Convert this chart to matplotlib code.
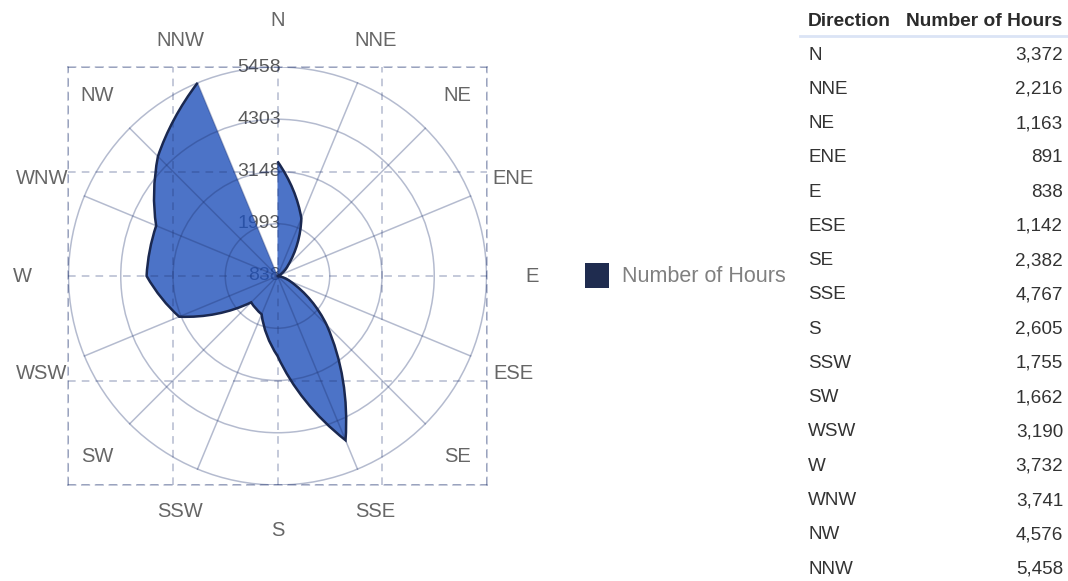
import numpy as np
import matplotlib
matplotlib.use('Agg')
import matplotlib.pyplot as plt
from matplotlib.path import Path
from matplotlib.patches import PathPatch, Circle, Rectangle

plt.rcParams['font.family'] = ['Liberation Sans', 'DejaVu Sans']

# ---------------------------------------------------------------------------
# Data
# ---------------------------------------------------------------------------
directions = ['N', 'NNE', 'NE', 'ENE', 'E', 'ESE', 'SE', 'SSE',
              'S', 'SSW', 'SW', 'WSW', 'W', 'WNW', 'NW', 'NNW']
hours = [3372, 2216, 1163, 891, 838, 1142, 2382, 4767,
         2605, 1755, 1662, 3190, 3732, 3741, 4576, 5458]
series_name = 'Number of Hours'
table_headers = ['Direction', 'Number of Hours']

# radial scale: centre = min, outer ring = max
r_min, r_max = min(hours), max(hours)
r_ticks = np.linspace(r_min, r_max, 5)
span = r_max - r_min
n = len(directions)
step = 2 * np.pi / n

# ---------------------------------------------------------------------------
# Helpers
# ---------------------------------------------------------------------------
def polar_xy(theta, value):
    d = value - r_min
    return d * np.sin(theta), d * np.cos(theta)


def series_path(values, close_to_centre):
    """segments as cubic beziers whose handles sit on the polar (spiral) path"""
    verts, codes = [], []
    first = polar_xy(0.0, values[0])
    if close_to_centre:
        verts += [(0, 0), first]
        codes += [Path.MOVETO, Path.LINETO]
    else:
        verts += [first]
        codes += [Path.MOVETO]
    for i in range(1, len(values)):
        t0, v0, v1 = (i - 1) * step, values[i - 1], values[i]
        for f in (1 / 3, 2 / 3):
            verts.append(polar_xy(t0 + f * step, v0 + f * (v1 - v0)))
        verts.append(polar_xy(i * step, v1))
        codes += [Path.CURVE4] * 3
    if close_to_centre:
        verts += [(0, 0), (0, 0)]
        codes += [Path.LINETO, Path.CLOSEPOLY]
    return Path(verts, codes)

# ---------------------------------------------------------------------------
# Figure
# ---------------------------------------------------------------------------
W, H = 1068, 581
fig = plt.figure(figsize=(W / 100, H / 100), dpi=100)
ax = fig.add_axes([68 / W, 1 - 485 / H, 419 / W, 418 / H])
ax.set_xlim(-span, span)
ax.set_ylim(-span, span)
ax.set_aspect('equal', adjustable='box')

grid_c = '#1e326e'
grid_a = 0.33

# dashed square grid
ax.set_xticks(np.linspace(-span, span, 5))
ax.set_yticks(np.linspace(-span, span, 5))
ax.tick_params(length=0, labelbottom=False, labelleft=False)
ax.grid(True, color=grid_c, alpha=grid_a, linestyle=(0, (5, 4)), linewidth=1.1)
ax.set_axisbelow(False)
for sp in ax.spines.values():
    sp.set_linestyle((0, (5, 4)))
    sp.set_color(grid_c)
    sp.set_alpha(grid_a)
    sp.set_linewidth(1.1)

# rings and spokes
for t in r_ticks[1:]:
    ax.add_patch(Circle((0, 0), t - r_min, fill=False, edgecolor=grid_c,
                        alpha=grid_a, linewidth=1.1, zorder=3))
for i in range(n):
    if i % 4 == 0:
        continue
    a = i * step
    ax.plot([0, span * np.sin(a)], [0, span * np.cos(a)], color=grid_c,
            alpha=grid_a, linewidth=1.1, zorder=3)

# radial labels (under the fill)
for t in r_ticks:
    ax.text(80, t - r_min, f"{t:.0f}", ha='right', va='center',
            fontsize=14, color='#5a5a5a', zorder=0.5)

# series
ax.add_patch(PathPatch(series_path(hours, True), facecolor='#1f50ba',
                       edgecolor='none', alpha=0.8, zorder=1))
ax.add_patch(PathPatch(series_path(hours, False), facecolor='none',
                       edgecolor='#1a2850', linewidth=1.8, zorder=4,
                       joinstyle='miter'))

# direction labels
lab_r = span * 255 / 209
for i, name in enumerate(directions):
    a = i * step
    ax.text(lab_r * np.sin(a), lab_r * np.cos(a), name, ha='center',
            va='center', fontsize=14.5, color='#666666')

# legend
fig.patches.append(Rectangle((585 / W, 1 - 288 / H), 24 / W, 25 / H,
                             transform=fig.transFigure, facecolor='#1f2c4f',
                             edgecolor='none'))
fig.text(622 / W, 1 - 277 / H, series_name, ha='left', va='center',
         fontsize=15.5, color='#808080')

# table
fig.text(808 / W, 1 - 22 / H, table_headers[0], ha='left', va='center',
         fontsize=13.8, fontweight='bold', color='#2b2b2b')
fig.text(1062 / W, 1 - 22 / H, table_headers[1], ha='right', va='center',
         fontsize=13.8, fontweight='bold', color='#2b2b2b')
fig.add_artist(plt.Line2D([800 / W, 1068 / W], [1 - 36 / H, 1 - 36 / H],
                          transform=fig.transFigure, color='#dbe4f5',
                          linewidth=2))
row0, row_h = 55, 34.27
for i, (d, v) in enumerate(zip(directions, hours)):
    y = 1 - (row0 + i * row_h) / H
    fig.text(808 / W, y, d, ha='left', va='center', fontsize=13.6,
             color='#333333')
    fig.text(1063 / W, y, f"{v:,}", ha='right', va='center', fontsize=13.6,
             color='#333333')

fig.savefig('out.png', dpi=100, facecolor='white')
